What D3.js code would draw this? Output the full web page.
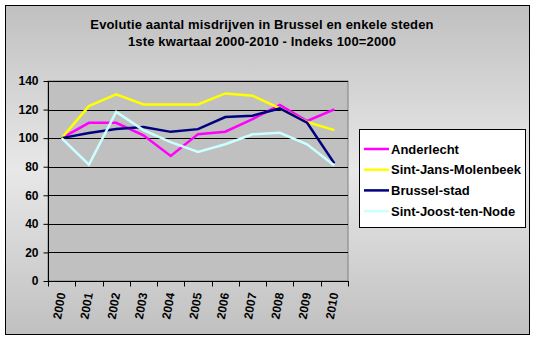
<!DOCTYPE html>
<html><head><meta charset="utf-8">
<script src="https://cdn.jsdelivr.net/npm/d3@7"></script>
<style>html,body{margin:0;padding:0;background:#fff;}svg{display:block;}</style>
</head><body>
<script>
const years = ["2000","2001","2002","2003","2004","2005","2006","2007","2008","2009","2010"];
const seriesNames = ["Anderlecht","Sint-Jans-Molenbeek","Brussel-stad","Sint-Joost-ten-Node"];
const anderlecht = [100,110.7,110.7,102,87.5,102.8,104.5,113.3,123.3,112,120.2];
const molenbeek = [100,122.4,130.6,123.6,123.6,123.6,131.3,129.7,120.9,111.3,105.6];
const brussel = [100,103.6,106.4,107.8,104.4,106.3,114.8,115.7,120.8,110.8,82.3];
const sintJoost = [100,81.4,118.4,105.6,97.2,90.4,95.7,102.7,103.7,95.7,80.8];
const yTicks = [0,20,40,60,80,100,120,140];
const titleLines = ["Evolutie aantal misdrijven in Brussel en enkele steden","1ste kwartaal 2000-2010 - Indeks 100=2000"];
const colors = ["#FF00FF","#FFFF00","#000080","#CCFFFF"];
const allValues = [anderlecht, molenbeek, brussel, sintJoost];

const W = 536, H = 340;
const svg = d3.select("body").append("svg").attr("width", W).attr("height", H);
const font = "'Liberation Sans', Arial, sans-serif";

const defs = svg.append("defs");
const grad = defs.append("linearGradient").attr("id","bg").attr("x1",0).attr("y1",0).attr("x2",0).attr("y2",1);
grad.append("stop").attr("offset","0%").attr("stop-color","#c0c0c0");
grad.append("stop").attr("offset","50%").attr("stop-color","#e8e8e8");
grad.append("stop").attr("offset","100%").attr("stop-color","#c0c0c0");

svg.append("rect").attr("x",5.5).attr("y",5.5).attr("width",524).attr("height",329)
  .attr("fill","url(#bg)").attr("stroke","#000").attr("stroke-width",1);

const plot = {left:48, top:81, right:348, bottom:281};
const x = d3.scaleBand().domain(years).range([plot.left, plot.right]).paddingInner(0).paddingOuter(0);
const y = d3.scaleLinear().domain([0,140]).range([plot.bottom, plot.top]);

svg.append("rect").attr("x",plot.left).attr("y",plot.top).attr("width",plot.right-plot.left).attr("height",plot.bottom-plot.top)
  .attr("fill","#c0c0c0").attr("stroke","#808080").attr("stroke-width",1);

// gridlines
svg.append("g").selectAll("line").data(yTicks.filter(d=>d>0)).join("line")
  .attr("x1",plot.left).attr("x2",plot.right)
  .attr("y1",d=>Math.round(y(d))+0.5).attr("y2",d=>Math.round(y(d))+0.5)
  .attr("stroke","#000").attr("stroke-width",1);

// y axis
const yAxis = svg.append("g").attr("transform",`translate(${plot.left+0.5},0)`)
  .call(d3.axisLeft(y).tickValues(yTicks).tickSize(5).tickPadding(5).tickFormat(d3.format("d")));
yAxis.select(".domain").attr("stroke","#000").attr("d",`M0,${plot.top}V${plot.bottom}`);
yAxis.selectAll(".tick line").attr("stroke","#000");
yAxis.selectAll("text").attr("font-family",font).attr("font-weight","bold").attr("font-size",12).attr("fill","#000");

// x axis
const xAxis = svg.append("g").attr("transform",`translate(0,${plot.bottom+0.5})`);
xAxis.append("line").attr("x1",plot.left).attr("x2",plot.right+1).attr("stroke","#000");
const tickPos = years.map(d=>x(d)).concat([plot.right]);
xAxis.selectAll("line.t").data(tickPos).join("line").attr("class","t")
  .attr("x1",d=>Math.round(d)+0.5).attr("x2",d=>Math.round(d)+0.5).attr("y1",0).attr("y2",5).attr("stroke","#000");
xAxis.selectAll("text").data(years).join("text")
  .attr("transform",d=>`translate(${x(d)+x.bandwidth()/2+4},${12}) rotate(-80)`)
  .attr("text-anchor","end").attr("font-family",font).attr("font-weight","bold").attr("font-size",12)
  .attr("fill","#000").text(d=>d);

// lines
const line = d3.line().x((d,i)=>x(years[i])+x.bandwidth()/2).y(d=>y(d));
svg.append("g").selectAll("path").data(allValues).join("path")
  .attr("d",d=>line(d)).attr("fill","none").attr("stroke",(d,i)=>colors[i]).attr("stroke-width",2.5)
  .attr("stroke-linejoin","miter");

// title
svg.append("g").selectAll("text").data(titleLines).join("text")
  .attr("x",262).attr("y",(d,i)=>29+i*17).attr("text-anchor","middle")
  .attr("font-family",font).attr("font-weight","bold").attr("font-size",13).attr("letter-spacing",0.15)
  .attr("fill","#000").text(d=>d);

// legend
const lg = svg.append("g");
lg.append("rect").attr("x",359.5).attr("y",129.5).attr("width",166).attr("height",98)
  .attr("fill","#fff").attr("stroke","#000").attr("stroke-width",1);
const items = lg.selectAll("g").data(seriesNames).join("g")
  .attr("transform",(d,i)=>`translate(0,${149+i*20.7})`);
items.append("line").attr("x1",364).attr("x2",389).attr("y1",0).attr("y2",0)
  .attr("stroke",(d,i)=>colors[i]).attr("stroke-width",2.5);
items.append("text").attr("x",391).attr("y",4.5).attr("font-family",font).attr("font-weight","bold")
  .attr("font-size",13).attr("fill","#000").text(d=>d);
</script>
</body></html>
